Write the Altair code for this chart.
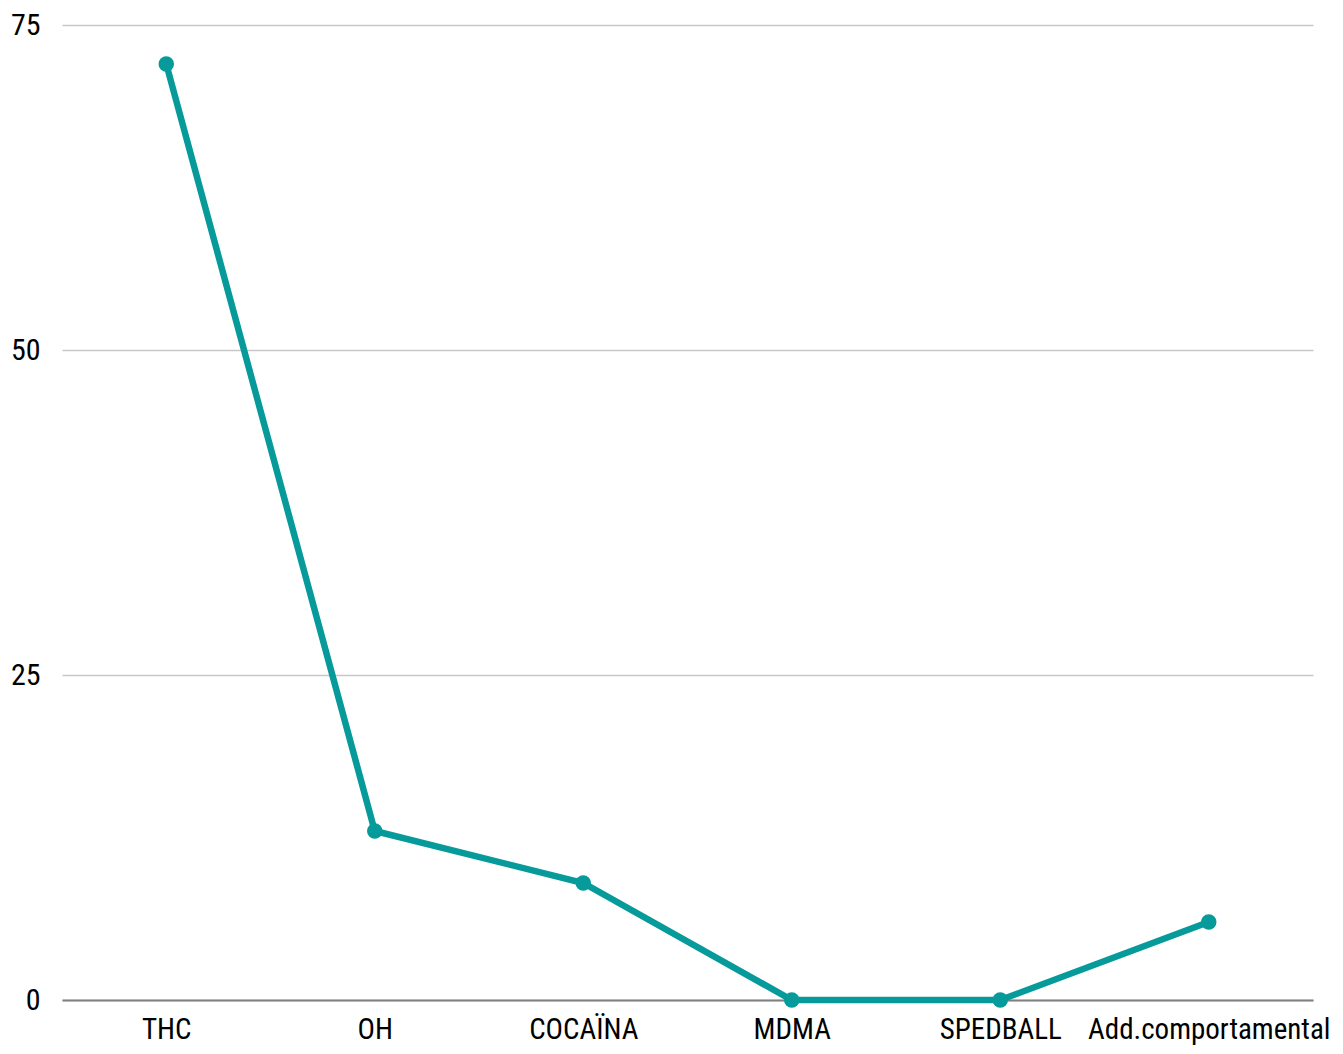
import altair as alt
import pandas as pd

categories = ["THC", "OH", "COCAÏNA", "MDMA", "SPEDBALL", "Add.comportamental"]
values = [72, 13, 9, 0, 0, 6]

df = pd.DataFrame({"cat": categories, "val": values})

FONT = "Roboto Condensed, Liberation Sans Narrow, DejaVu Sans Condensed, sans-serif"
COLOR = "#069a9a"

x = alt.X("cat:N", sort=categories, title=None,
          scale=alt.Scale(type="point", padding=0.5),
          axis=alt.Axis(labelAngle=0, labelFont=FONT, labelFontSize=29, labelColor="#000",
                        labelPadding=15, labelLimit=0, ticks=False, domain=True,
                        domainColor="#808080", domainWidth=2, grid=False))
y = alt.Y("val:Q", title=None,
          scale=alt.Scale(domain=[0, 75], nice=False),
          axis=alt.Axis(values=[0, 25, 50, 75], labelFont=FONT, labelFontSize=30, labelColor="#000",
                        labelPadding=22, ticks=False, domain=False, gridColor="#c8c8c8",
                        gridWidth=1.5))

base = alt.Chart(df)
line = base.mark_line(color=COLOR, strokeWidth=6.5).encode(x=x, y=y)
pts = base.mark_point(color=COLOR, filled=True, opacity=1, size=240).encode(x=x, y=y)

chart = (line + pts).properties(
    width=1251, height=975,
    background="white",
    autosize=alt.AutoSizeParams(type="none"),
    padding={"left": 54, "top": 17, "right": 20, "bottom": 45},
).configure_view(stroke=None, strokeWidth=0)

chart.save("out.html", embed_options={"renderer": "svg", "actions": False})
